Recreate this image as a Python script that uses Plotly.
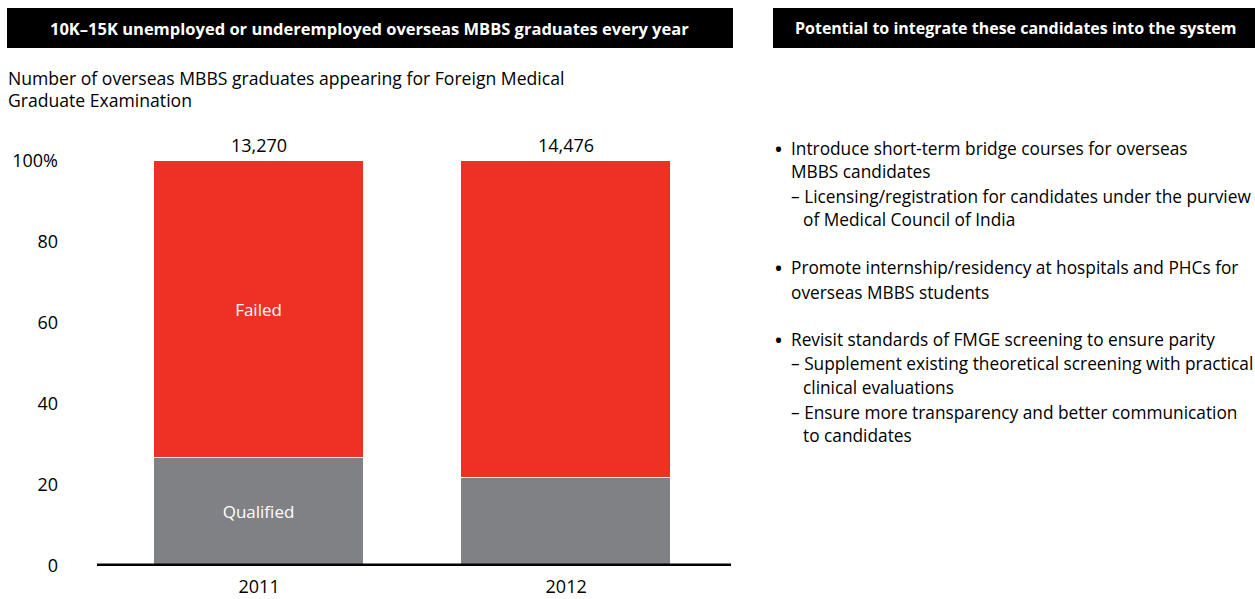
import plotly.graph_objects as go

W, H = 1255, 599

# Data: share of FMGE candidates by result (percent of those appearing)
years = ["2011", "2012"]
qualified = [26.7, 21.8]
failed = [100 - q for q in qualified]
totals = ["13,270", "14,476"]
seg_labels_qualified = ["Qualified", ""]
seg_labels_failed = ["Failed", ""]
y_tickvals = [0, 20, 40, 60, 80, 100]
y_ticktext = ["0", "20", "40", "60", "80", "100%"]

RED = "#EE3124"
GRAY = "#808184"
FONT = "Open Sans"


def px(x):
    return x / W


def py(y):
    return 1 - y / H


fig = go.Figure()
fig.add_trace(go.Bar(
    x=years, y=qualified, name="Qualified",
    marker=dict(color=GRAY, line=dict(color="white", width=1)),
    text=seg_labels_qualified, textposition="inside", insidetextanchor="middle",
    textangle=0, textfont=dict(color="white", size=17, family=FONT),
    width=0.684,
))
fig.add_trace(go.Bar(
    x=years, y=failed, name="Failed",
    marker=dict(color=RED, line=dict(color="white", width=1)),
    text=seg_labels_failed, textposition="inside", insidetextanchor="middle",
    textangle=0, textfont=dict(color="white", size=17, family=FONT),
    width=0.684,
))

annotations = []
# totals above bars (category axis positions are serial numbers)
for i, t in enumerate(totals):
    annotations.append(dict(x=i, y=py(161), xref="x", yref="paper", text=t, showarrow=False,
                            yanchor="bottom", yshift=2,
                            font=dict(size=18, color="black", family=FONT)))

# header banners
shapes = [
    dict(type="rect", xref="paper", yref="paper", x0=px(7), x1=px(733), y0=py(48), y1=py(8),
         fillcolor="black", line=dict(width=0), layer="below"),
    dict(type="rect", xref="paper", yref="paper", x0=px(773), x1=px(1255), y0=py(48), y1=py(8),
         fillcolor="black", line=dict(width=0), layer="below"),
    # baseline
    dict(type="line", xref="paper", yref="y", x0=px(97), x1=px(731), y0=0, y1=0,
         line=dict(color="black", width=5)),
]
annotations.append(dict(x=px(369), y=py(28), xref="paper", yref="paper",
                        text="<b>10K–15K unemployed or underemployed overseas MBBS graduates every year</b>",
                        showarrow=False, xanchor="center", yanchor="middle",
                        font=dict(size=16.5, color="white", family=FONT)))
annotations.append(dict(x=px(1016), y=py(28), xref="paper", yref="paper",
                        text="<b>Potential to integrate these candidates into the system</b>",
                        showarrow=False, xanchor="center", yanchor="middle",
                        font=dict(size=16, color="white", family=FONT)))

# chart subtitle
for txt, yy in [("Number of overseas MBBS graduates appearing for Foreign Medical", 78),
                ("Graduate Examination", 100)]:
    annotations.append(dict(x=px(6), y=py(yy), xref="paper", yref="paper", text=txt,
                            showarrow=False, xanchor="left", yanchor="middle",
                            font=dict(size=17.6, color="black", family=FONT)))

# recommendations list
bullets_y = [148, 267, 340]
rec_lines = [
    ("Introduce short-term bridge courses for overseas", 789, 148),
    ("MBBS candidates", 789, 172),
    ("– Licensing/registration for candidates under the purview", 789, 196),
    ("of Medical Council of India", 801, 219),
    ("Promote internship/residency at hospitals and PHCs for", 789, 267),
    ("overseas MBBS students", 789, 292),
    ("Revisit standards of FMGE screening to ensure parity", 789, 340),
    ("– Supplement existing theoretical screening with practical", 789, 363),
    ("clinical evaluations", 801, 387),
    ("– Ensure more transparency and better communication", 789, 412),
    ("to candidates", 801, 435),
]
for yy in bullets_y:
    annotations.append(dict(x=px(778.5), y=py(yy), xref="paper", yref="paper", text="•",
                            showarrow=False, xanchor="center", yanchor="middle", yshift=0,
                            font=dict(size=24, color="black", family=FONT)))
for txt, xx, yy in rec_lines:
    annotations.append(dict(x=px(xx), y=py(yy), xref="paper", yref="paper", text=txt,
                            showarrow=False, xanchor="left", yanchor="middle",
                            font=dict(size=17.3, color="black", family=FONT)))

fig.update_layout(
    width=W, height=H,
    margin=dict(l=0, r=0, t=0, b=0, autoexpand=False),
    paper_bgcolor="white", plot_bgcolor="white",
    barmode="stack", bargap=0,
    showlegend=False,
    font=dict(family=FONT, color="black"),
    shapes=shapes,
    annotations=annotations,
    xaxis=dict(domain=[px(97), px(731)], type="category", range=[-0.528, 1.537],
               automargin=False,
               showgrid=False, zeroline=False, showline=False, ticks="",
               tickfont=dict(size=18, color="black", family=FONT), ticklabelstandoff=8),
    yaxis=dict(domain=[py(566), py(161)], range=[0, 100],
               automargin=False,
               tickvals=y_tickvals, ticktext=y_ticktext,
               showgrid=False, zeroline=False, showline=False, ticks="",
               tickfont=dict(size=18, color="black", family=FONT), ticklabelstandoff=38),
)

fig.write_html("out.html")
